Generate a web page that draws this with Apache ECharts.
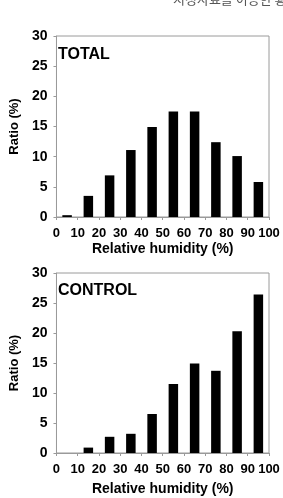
<!DOCTYPE html>
<html>
<head>
<meta charset="utf-8">
<script src="https://cdn.jsdelivr.net/npm/echarts@6/dist/echarts.min.js"></script>
<style>
  html, body { margin: 0; padding: 0; background: #fff; }
  #chart { width: 283px; height: 498px; }
</style>
</head>
<body>
<div id="chart"></div>
<script>
// bin centres of relative humidity (%)
const binCenters = [5, 15, 25, 35, 45, 55, 65, 75, 85, 95];
const totalRatio = [0.3, 3.5, 6.9, 11.1, 14.9, 17.5, 17.5, 12.4, 10.1, 5.8];
const controlRatio = [0, 0.9, 2.7, 3.2, 6.5, 11.5, 14.9, 13.7, 20.3, 26.4];

const chart = echarts.init(document.getElementById('chart'));

const font = 'Liberation Sans, Arial, sans-serif';
const gray = '#9a9a9a';

function xAxisFor(gridIndex, gap) {
  return {
    type: 'value',
    gridIndex: gridIndex,
    min: 0,
    max: 100,
    interval: 10,
    name: 'Relative humidity (%)',
    nameLocation: 'middle',
    nameGap: gap,
    nameTextStyle: { color: '#000', fontWeight: 'bold', fontSize: 14, fontFamily: font },
    axisLine: { lineStyle: { color: gray } },
    axisTick: { show: true, length: 3, lineStyle: { color: gray } },
    axisLabel: { color: '#000', fontWeight: 'bold', fontSize: 13, fontFamily: font, margin: 10 },
    splitLine: { show: false }
  };
}

function yAxisFor(gridIndex) {
  return {
    type: 'value',
    gridIndex: gridIndex,
    min: 0,
    max: 30,
    interval: 5,
    name: 'Ratio (%)',
    nameLocation: 'middle',
    nameGap: 31,
    nameTextStyle: { color: '#000', fontWeight: 'bold', fontSize: 13, fontFamily: font },
    axisLine: { show: true, lineStyle: { color: gray } },
    axisTick: { show: true, length: 3, lineStyle: { color: gray } },
    axisLabel: { color: '#000', fontWeight: 'bold', fontSize: 14, fontFamily: font, margin: 9 },
    splitLine: { show: false }
  };
}

const option = {
  animation: false,
  title: [
    {
      text: 'TOTAL', left: 53, top: 42,
      textStyle: { color: '#000', fontWeight: 'bold', fontSize: 16, fontFamily: font }
    },
    {
      text: 'CONTROL', left: 53, top: 278,
      textStyle: { color: '#000', fontWeight: 'bold', fontSize: 16, fontFamily: font }
    }
  ],
  graphic: [
    {
      type: 'text', left: 173, top: -7,
      style: { text: '시정자료를 이용한 황사', fill: '#555', font: '13px "Noto Sans CJK KR"' }
    }
  ],
  grid: [
    { left: 49, top: 36, width: 220, height: 181, show: true, borderColor: gray, borderWidth: 1 },
    { left: 49, top: 273, width: 220, height: 180, show: true, borderColor: gray, borderWidth: 1 }
  ],
  xAxis: [xAxisFor(0, 25), xAxisFor(1, 29)],
  yAxis: [yAxisFor(0), yAxisFor(1)],
  series: [
    {
      type: 'bar', xAxisIndex: 0, yAxisIndex: 0, barWidth: 9.5,
      itemStyle: { color: '#000' },
      data: binCenters.map((c, i) => [c, totalRatio[i]])
    },
    {
      type: 'bar', xAxisIndex: 1, yAxisIndex: 1, barWidth: 9.5,
      itemStyle: { color: '#000' },
      data: binCenters.map((c, i) => [c, controlRatio[i]])
    }
  ]
};

chart.setOption(option);
window.addEventListener('resize', chart.resize);
</script>
</body>
</html>
